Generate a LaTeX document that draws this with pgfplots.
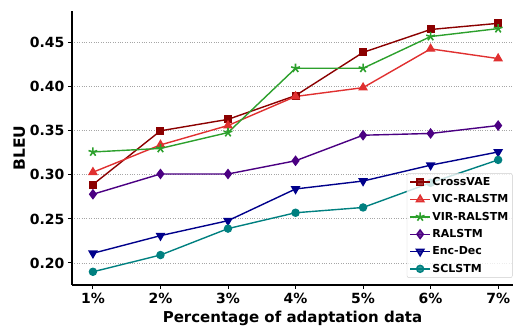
\documentclass[border=0pt]{standalone}
\usepackage{pgfplots}
\pgfplotsset{compat=1.18}
\usepackage{fontspec}
\setmainfont{DejaVu Sans}
\definecolor{cvae}{HTML}{8B0000}
\definecolor{vic}{HTML}{E03030}
\definecolor{vir}{HTML}{2CA02C}
\definecolor{ral}{HTML}{4B0082}
\definecolor{encd}{HTML}{00008B}
\definecolor{scl}{HTML}{008080}
\begin{document}
\begin{tikzpicture}
\begin{axis}[
  scale only axis,
  width=441pt, height=274pt,
  xmin=0.69, xmax=7.22,
  ymin=0.175, ymax=0.486,
  axis lines*=left,
  axis line style={line width=1.2pt},
  xtick={1,2,3,4,5,6,7},
  xticklabels={1\%,2\%,3\%,4\%,5\%,6\%,7\%},
  ytick={0.20,0.25,0.30,0.35,0.40,0.45},
  yticklabel style={/pgf/number format/fixed,/pgf/number format/fixed zerofill,/pgf/number format/precision=2},
  /pgf/number format/assume math mode=true,
  tick align=outside,
  major tick length=4pt,
  tick style={black,line width=1pt},
  ticklabel style={font=\fontsize{14}{16}\selectfont\bfseries},
  xticklabel style={yshift=-1pt},
  xlabel={Percentage of adaptation data},
  ylabel={BLEU},
  xlabel style={font=\fontsize{15}{17}\selectfont\bfseries,yshift=0pt},
  ylabel style={font=\fontsize{15.5}{17}\selectfont\bfseries,yshift=-2pt},
  ymajorgrids,
  grid style={gray!70,dotted,line width=0.9pt},
  legend style={at={(0.999,0.026)},anchor=south east,font=\fontsize{11}{13}\selectfont\bfseries,
    draw=gray!40,fill=white,fill opacity=0.8,text opacity=1,rounded corners=2pt,
    row sep=4.7pt,inner sep=2.5pt,nodes={inner sep=1.5pt}},
  legend image code/.code={%
    \draw[mark repeat=2,mark phase=2] plot coordinates {(0pt,0pt) (10pt,0pt) (20pt,0pt)};},
  legend cell align=left,
  every axis plot/.append style={line width=1.4pt},
]
\addplot[color=cvae,mark=square*,mark size=3.3pt] coordinates {(1,0.289)(2,0.350)(3,0.363)(4,0.390)(5,0.439)(6,0.465)(7,0.472)};
\addlegendentry{CrossVAE}
\addplot[color=vic,mark=triangle*,mark size=4.3pt] coordinates {(1,0.303)(2,0.334)(3,0.356)(4,0.389)(5,0.399)(6,0.443)(7,0.432)};
\addlegendentry{VIC-RALSTM}
\addplot[color=vir,mark=star,mark size=4.6pt,mark options={line width=1.6pt}] coordinates {(1,0.326)(2,0.330)(3,0.348)(4,0.421)(5,0.421)(6,0.457)(7,0.466)};
\addlegendentry{VIR-RALSTM}
\addplot[color=ral,mark=diamond*,mark size=4.3pt] coordinates {(1,0.278)(2,0.301)(3,0.301)(4,0.316)(5,0.345)(6,0.347)(7,0.356)};
\addlegendentry{RALSTM}
\addplot[color=encd,mark=triangle*,mark size=4.3pt,mark options={rotate=180}] coordinates {(1,0.211)(2,0.231)(3,0.248)(4,0.284)(5,0.293)(6,0.311)(7,0.326)};
\addlegendentry{Enc-Dec}
\addplot[color=scl,mark=*,mark size=3.5pt] coordinates {(1,0.190)(2,0.209)(3,0.239)(4,0.257)(5,0.263)(6,0.291)(7,0.317)};
\addlegendentry{SCLSTM}
\end{axis}
\pgfresetboundingbox
\path[use as bounding box] ([xshift=-72pt,yshift=-43pt]current axis.south west) rectangle ([yshift=11pt]current axis.north east);
\end{tikzpicture}
\end{document}
